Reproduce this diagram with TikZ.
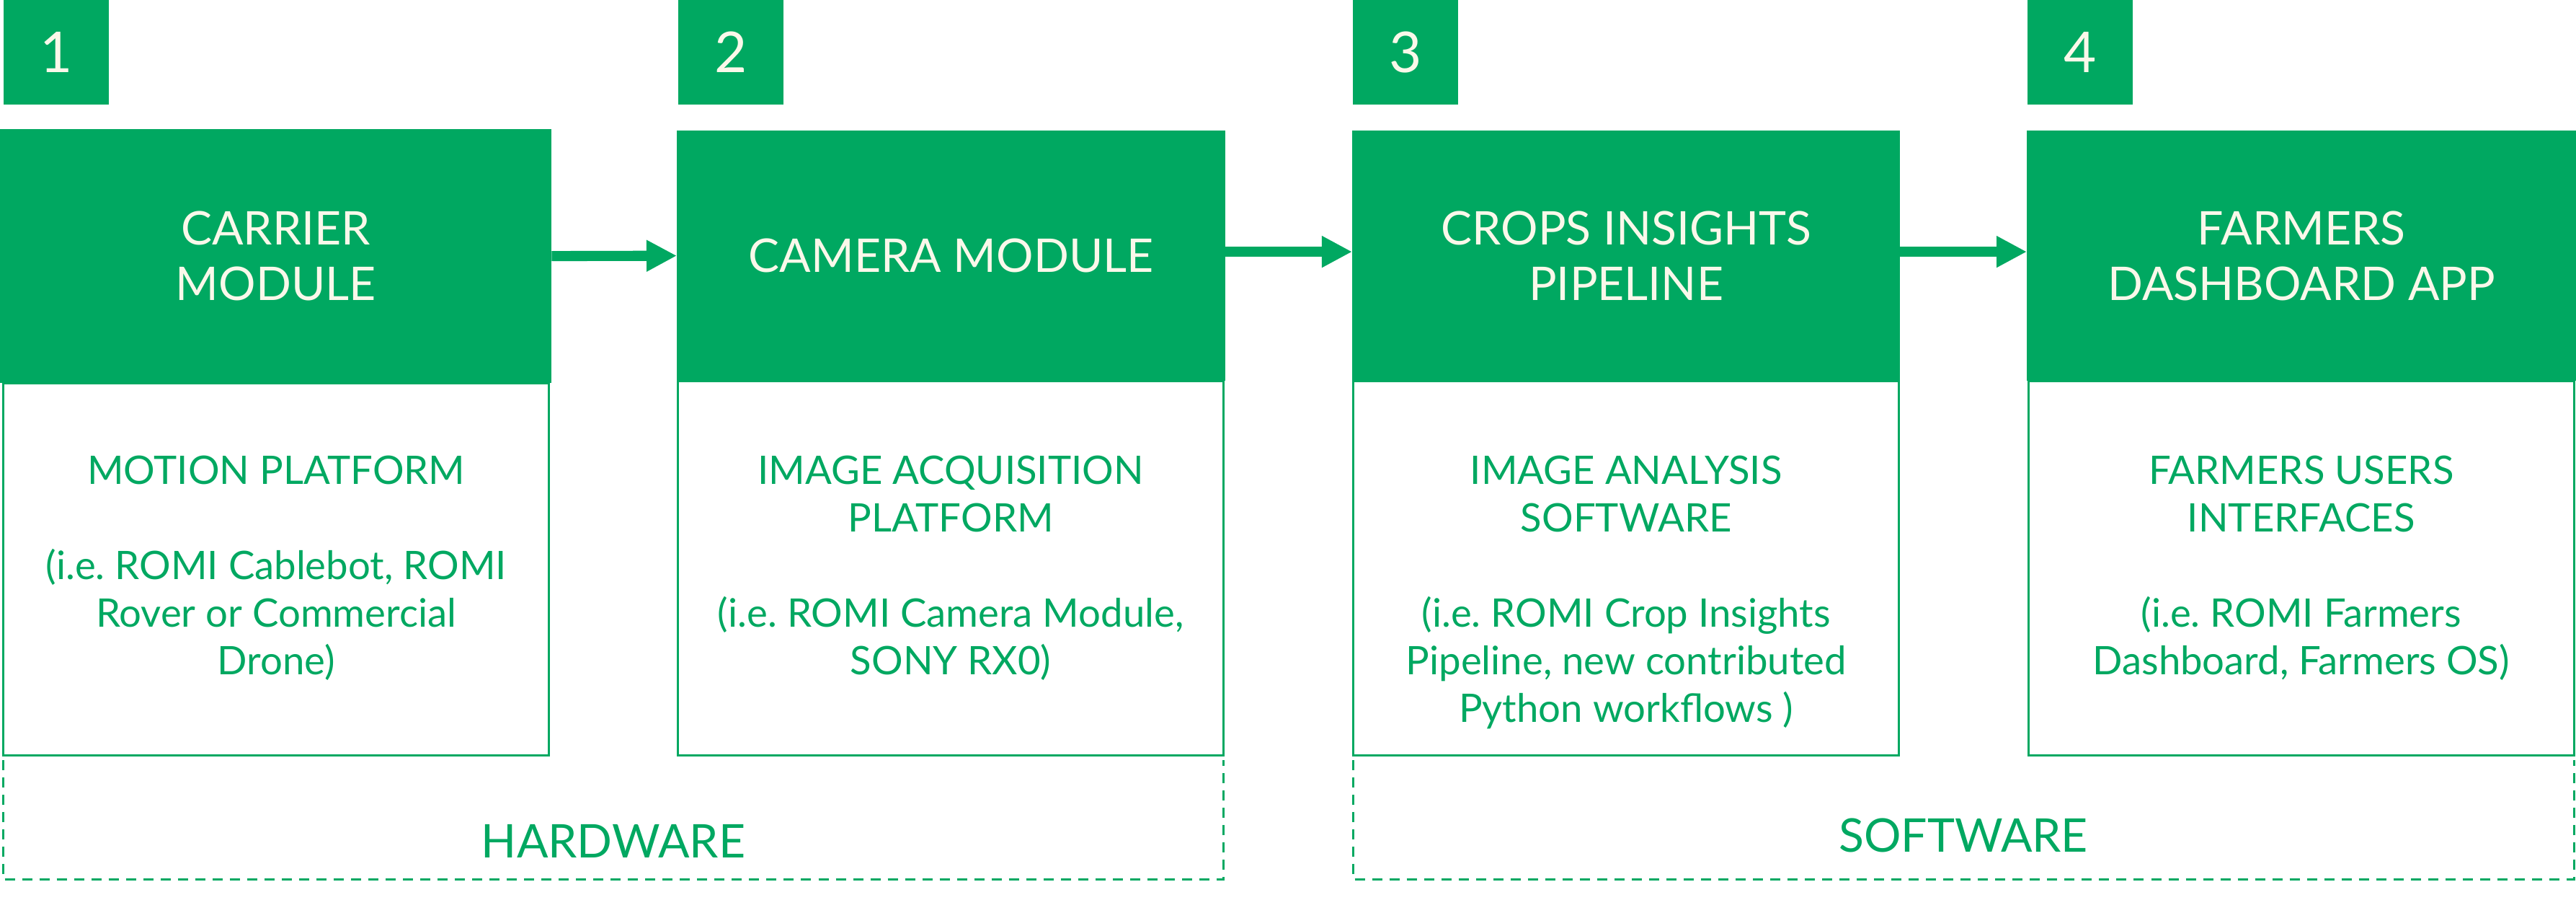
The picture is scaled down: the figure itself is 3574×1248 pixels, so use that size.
\documentclass[tikz,border=0pt]{standalone}
\usepackage{fontspec}
\setmainfont{Lato}
\frenchspacing
\usetikzlibrary{positioning,arrows.meta}
\definecolor{romigreen}{RGB}{0,168,97}
\definecolor{romicream}{RGB}{250,248,234}
\tikzset{
  numbox/.style={fill=romigreen, text=romicream, minimum width=1.46cm, minimum height=1.46cm, inner sep=0pt, font=\fontsize{22.2}{26}\selectfont},
  headbox/.style={fill=romigreen, text=romicream, anchor=north west, minimum height=3.47cm, inner sep=0pt, outer sep=0pt, align=center, font=\fontsize{18.3}{21.9}\selectfont},
  bodybox/.style={draw=romigreen, line width=0.85pt, anchor=north west, minimum width=7.57cm, minimum height=5.195cm, inner sep=0pt, outer sep=0pt},
  bodytext/.style={text=romigreen, align=center, inner sep=0pt, font=\fontsize{15.5}{18.8}\selectfont},
  flow/.style={romigreen, line width=4pt, -{Triangle[length=11.95pt, width=11.67pt]}},
  group/.style={romigreen, line width=0.85pt, dash pattern=on 3.98pt off 2.85pt},
  grouplabel/.style={text=romigreen, inner sep=0pt, anchor=base, font=\fontsize{18.3}{22}\selectfont}
}
\begin{document}
\begin{tikzpicture}[x=0.01cm, y=-0.01cm]
\useasboundingbox (0,0) rectangle (3574,1248);
\node[bodybox, minimum height=5.165cm] (body1) at (4.5,531) {};
\node[bodybox] (body2) at (940.5,528) {};
\node[bodybox] (body3) at (1877.5,528) {};
\node[bodybox] (body4) at (2814,528) {};
\node[headbox, minimum width=7.65cm, minimum height=3.52cm] (head1) at (0,179) {CARRIER\\MODULE};
\node[headbox, minimum width=7.61cm] (head2) at (939,181) {CAMERA MODULE};
\node[headbox, minimum width=7.60cm] (head3) at (1876,181) {CROPS INSIGHTS\\PIPELINE};
\node[headbox, minimum width=7.62cm] (head4) at (2812,181) {FARMERS\\DASHBOARD APP};
\node[numbox, above right=0.33cm and 0.04cm of head1.north west] (num1) {1};
\node[numbox, above right=0.35cm and 0.01cm of head2.north west] (num2) {2};
\node[numbox, above right=0.35cm and 0cm of head3.north west] (num3) {3};
\node[numbox, above right=0.35cm and 0cm of head4.north west] (num4) {4};
\node[bodytext, below=1cm of body1.north] (text1) {MOTION PLATFORM\\[18.8pt](i.e. ROMI Cablebot, ROMI\\Rover or Commercial\\Drone)};
\node[bodytext, below=1.03cm of body2.north] (text2) {IMAGE ACQUISITION\\PLATFORM\\[18.8pt](i.e. ROMI Camera Module,\\SONY RX0)};
\node[bodytext, below=1.03cm of body3.north] (text3) {IMAGE ANALYSIS\\SOFTWARE\\[18.8pt](i.e. ROMI Crop Insights\\Pipeline, new contributed\\Python workflows )};
\node[bodytext, below=1.03cm of body4.north] (text4) {FARMERS USERS\\INTERFACES\\[18.8pt](i.e. ROMI Farmers\\Dashboard, Farmers OS)};
\draw[flow] (head1.east) -- (head2.west);
\draw[flow] ([yshift=0.055cm]head2.east) -- ([yshift=0.055cm]head3.west);
\draw[flow] ([yshift=0.055cm]head3.east) -- ([yshift=0.055cm]head4.west);
\draw[group] ([yshift=-0.06cm]body1.south west) -- ++(0,166) -| ([yshift=-0.06cm]body2.south east);
\draw[group] ([yshift=-0.06cm]body3.south west) -- ++(0,166) -| ([yshift=-0.06cm]body4.south east);
\node[grouplabel] (hwlabel) at (851,1189) {HARDWARE};
\node[grouplabel] (swlabel) at (2724,1181) {SOFTWARE};
\end{tikzpicture}
\end{document}
